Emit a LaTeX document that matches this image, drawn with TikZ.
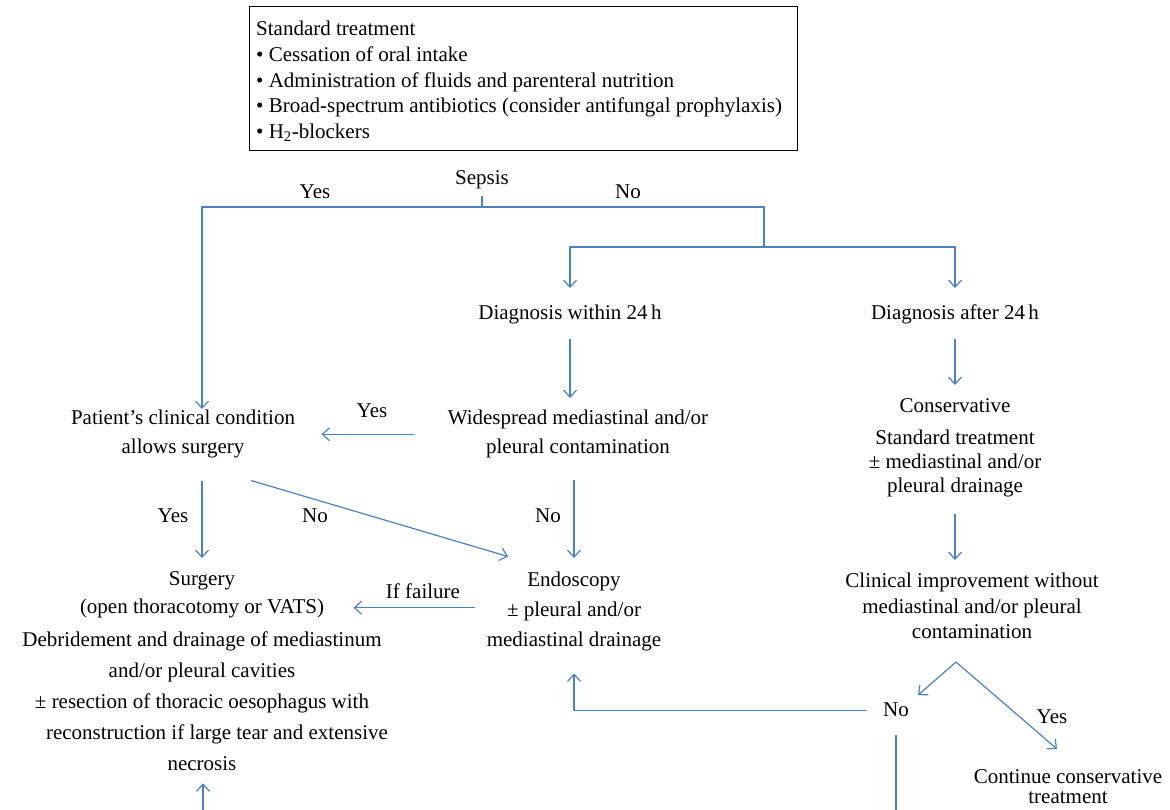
\documentclass[tikz,border=0pt]{standalone}
\usepackage{fontspec}
\setmainfont{Liberation Serif}
\usetikzlibrary{arrows.meta}
\definecolor{flowblue}{RGB}{79,129,189}

\begin{document}
\begin{tikzpicture}[x=1pt,y=-1pt,
  lbl/.style={inner sep=0pt,align=center,anchor=north,font=\fontsize{21}{29}\selectfont},
  link/.style={draw=flowblue,line width=1.2pt},
  flow/.style={link,-{Straight Barb[length=7pt,width=13pt]}}]
\useasboundingbox (0,0) rectangle (1170,809);
% standard treatment box
\node[draw,line width=1.3pt,minimum width=548pt,minimum height=144pt,anchor=north west,inner sep=0pt] (stdbox) at (249,6) {};
\node[lbl,align=left,anchor=north west,font=\fontsize{21}{25.7}\selectfont] (stdlist) at (256,21)
  {Standard treatment\\• Cessation of oral intake\\• Administration of fluids and parenteral nutrition\\
   • Broad-spectrum antibiotics (consider antifungal prophylaxis)\\• H\textsubscript{2}-blockers};
% first split
\node[lbl] (sepsis) at (482,170) {Sepsis};
\node[lbl] (yes1) at (315,185) {Yes};
\node[lbl] (no1) at (628,185) {No};
\node[lbl] (dwithin) at (570,305) {Diagnosis within 24\,h};
\node[lbl] (dafter) at (955,305) {Diagnosis after 24\,h};
\coordinate (split) at (482,207);
\coordinate (nojoin) at (764,247);
\draw[link] (sepsis.south) ++(0,7) -- (split);
\draw[link] (split) -| (nojoin);
\draw[flow,shorten >=17pt] (nojoin) -| (dwithin.north);
\draw[flow,shorten >=17pt] (nojoin) -| (dafter.north);
% left column
\node[lbl] (patient) at (183,410) {Patient’s clinical condition\\allows surgery};
\node[lbl] (wide) at (578,410) {Widespread mediastinal and/or\\pleural contamination};
\node[lbl] (yes2) at (372,404) {Yes};
\node[lbl,font=\fontsize{21}{28}\selectfont] (surgery) at (202,571) {Surgery\\(open thoracotomy or VATS)};
\node[lbl,font=\fontsize{21}{31}\selectfont] (debride) at (202,632)
  {Debridement and drainage of mediastinum\\and/or pleural cavities\\± resection of thoracic oesophagus with\\
   \hspace*{30pt}reconstruction if large tear and extensive\\necrosis};
\node[lbl,font=\fontsize{21}{30}\selectfont] (endo) at (574,572) {Endoscopy\\± pleural and/or\\mediastinal drainage};
\node[lbl] (yes3) at (173,509) {Yes};
\node[lbl] (no2) at (315,509) {No};
\node[lbl] (no3) at (548,509) {No};
\node[lbl] (fail) at (423,584) {If failure};
\draw[flow,shorten >=1pt] (split) -| (surgery.north |- patient.north);
\draw[flow,shorten <=14pt,shorten >=12pt] (dwithin.south) -- (dwithin.south |- wide.north);
\draw[flow] (wide.west) ++(-34,0) -- ++(-92,0);
\draw[flow,shorten <=22pt,shorten >=13pt] (surgery.north |- patient.south) -- (surgery.north);
\draw[flow] (patient.south) ++(68,22) -- ++(257,76);
\draw[flow,shorten <=22pt,shorten >=14pt] (endo.north |- wide.south) -- (endo.north);
\draw[flow] (endo.west) ++(-12,-4) -- ++(-121,0);
\draw[flow] (debride.south) ++(1,40) -- ++(0,-28);
% right column
\node[lbl] (consv) at (955,398) {Conservative};
\node[lbl,font=\fontsize{21}{24}\selectfont] (stdtreat) at (955,430) {Standard treatment\\± mediastinal and/or\\pleural drainage};
\node[lbl,font=\fontsize{21}{25.5}\selectfont] (clinical) at (972,573) {Clinical improvement without\\mediastinal and/or pleural\\contamination};
\node[lbl] (noC) at (896,703) {No};
\node[lbl] (yesC) at (1052,710) {Yes};
\node[lbl,font=\fontsize{21}{20}\selectfont] (cont) at (1068,769) {Continue conservative\\treatment};
\coordinate (peak) at (956,662);
\draw[flow,shorten <=14pt,shorten >=13pt] (dafter.south) -- (dafter.south |- consv.north);
\draw[flow,shorten <=16pt,shorten >=13pt] (stdtreat.south) -- (stdtreat.south |- clinical.north);
\draw[flow,shorten >=12pt] (peak) -- (noC.north east);
\draw[flow] (peak) -- ++(101,87);
\draw[flow,shorten <=16pt,shorten >=22pt] (noC.west) -| (endo.south);
\draw[link] (noC.south) ++(0,18) -- ++(0,80);
\end{tikzpicture}
\end{document}
